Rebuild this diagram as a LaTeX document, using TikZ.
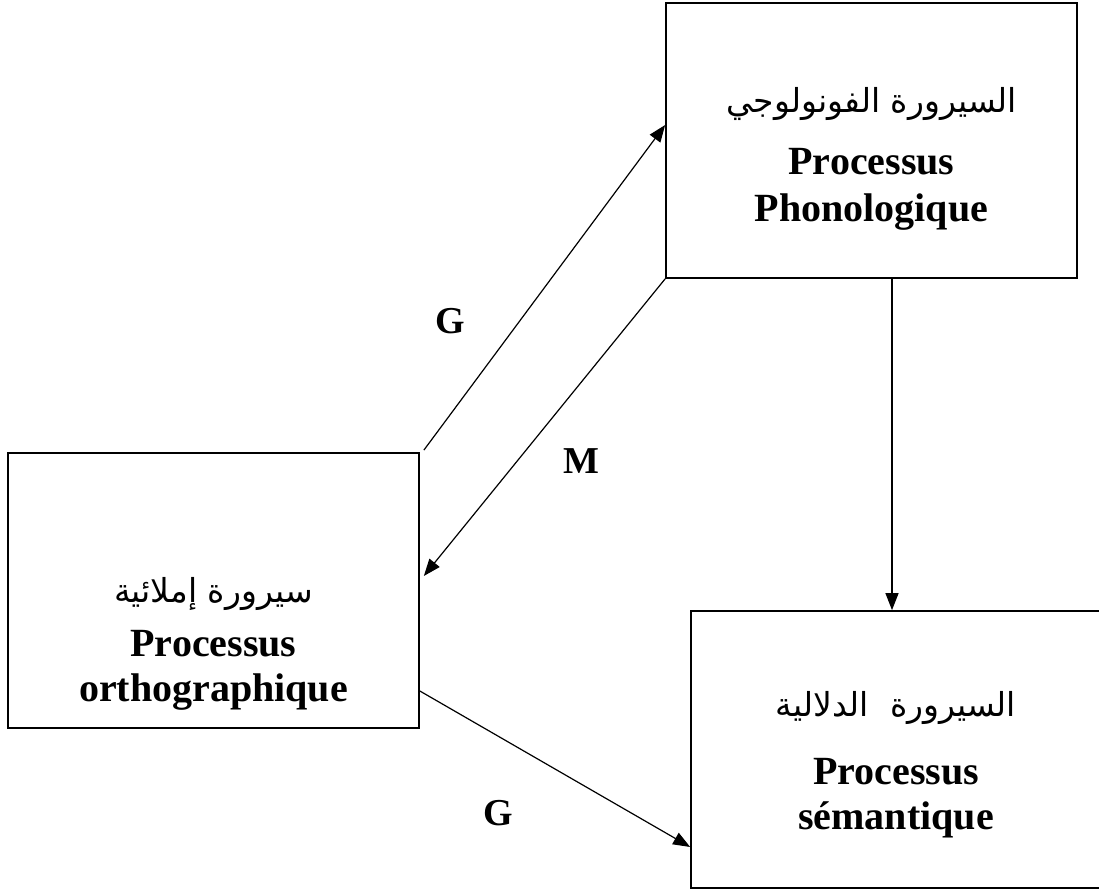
\documentclass[tikz,border=0pt]{standalone}
\usepackage{fontspec}
\setmainfont{Liberation Serif}
\newfontfamily\arabicfont[Script=Arabic]{DejaVu Sans}
\TeXXeTstate=1
\usetikzlibrary{arrows.meta, calc}

\begin{document}
\begin{tikzpicture}[
    x=1pt, y=1pt,
    box/.style={rectangle, draw=black, line width=1.7pt, minimum width=411pt, minimum height=275pt, inner sep=0pt},
    fr/.style={anchor=base, inner sep=0pt, font=\fontsize{40}{46}\selectfont\bfseries},
    ar/.style={anchor=base, inner sep=0pt, font=\fontsize{33}{38}\selectfont\arabicfont},
    lab/.style={inner sep=0pt, font=\fontsize{38}{44}\selectfont\bfseries},
    arr/.style={-{Triangle[length=17pt, width=13pt]}, line width=1.2pt}
]
    \useasboundingbox (0,0) rectangle (1099,890);
    \clip (0,0) rectangle (1099,890);

    % Boxes
    \node[box] (phono) at (871.5,749.5) {};
    \node[box] (ortho) at (213.5,299.5) {};
    \node[box, minimum width=410pt, minimum height=277pt] (sem) at (896,140.5) {};

    % Box texts
    \node[ar] (phonoar) at (871.5,777) {\beginR السيرورة الفونولوجي\endR};
    \node[fr] (phonofr) at (871.5,715) {Processus};
    \node[fr] (phonofrb) at (871.5,668) {Phonologique};
    \node[ar] (orthoar) at (213.5,287) {\beginR سيرورة إملائية\endR};
    \node[fr] (orthofr) at (213.5,233) {Processus};
    \node[fr] (orthofrb) at (213.5,188) {orthographique};
    \node[ar] (semar) at (896,173) {\beginR السيرورة~~الدلالية\endR};
    \node[fr] (semfr) at (896,105) {Processus};
    \node[fr] (semfrb) at (896,60) {sémantique};

    % Arrows
    \draw[arr] ([shift={(4pt,2pt)}]ortho.north east) -- ([yshift=15.5pt]phono.west);
    \draw[arr] (phono.south west) -- ([shift={(4pt,14.5pt)}]ortho.east);
    \draw[arr] ([xshift=20.5pt]phono.south) -- ([xshift=20.5pt]phono.south |- sem.north);
    \draw[arr] ([yshift=-100.5pt]ortho.east) -- ([yshift=-97.5pt]sem.west);

    % Labels
    \node[lab] (gup) at (450,569) {G};
    \node[lab] (mid) at (581,429) {M};
    \node[lab] (gdown) at (498,77) {G};
\end{tikzpicture}
\end{document}
